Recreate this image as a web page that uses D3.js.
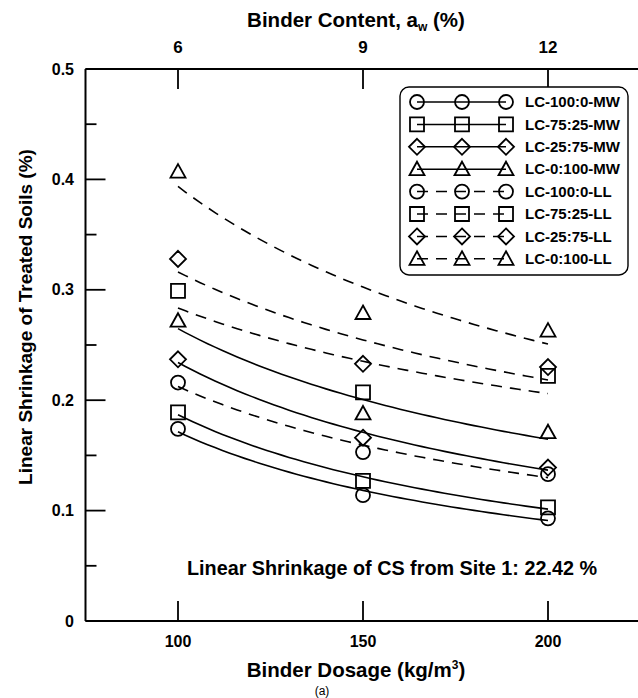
<!DOCTYPE html>
<html><head><meta charset="utf-8">
<script src="https://cdn.jsdelivr.net/npm/d3@7"></script>
<style>body{margin:0;background:#fff}svg{display:block;font-family:"Liberation Sans",Arial,sans-serif;font-weight:bold}</style>
</head><body><svg id="c" width="638" height="698"></svg>
<script>
// ---- data ----
const dosage = [100, 150, 200];
const xTicks = [100, 150, 200];
const topTicks = [6, 9, 12];
const yTicks = [0, 0.1, 0.2, 0.3, 0.4, 0.5];
const seriesNames = ["LC-100:0-MW","LC-75:25-MW","LC-25:75-MW","LC-0:100-MW","LC-100:0-LL","LC-75:25-LL","LC-25:75-LL","LC-0:100-LL"];
const seriesMarkers = ["circle","square","diamond","triangle","circle","square","diamond","triangle"];
const seriesDashed = [false,false,false,false,true,true,true,true];
const lc100_0_MW = [0.174, 0.114, 0.093];
const lc75_25_MW = [0.189, 0.127, 0.103];
const lc25_75_MW = [0.237, 0.166, 0.139];
const lc0_100_MW = [0.272, 0.188, 0.171];
const lc100_0_LL = [0.216, 0.153, 0.133];
const lc75_25_LL = [0.299, 0.207, 0.222];
const lc25_75_LL = [0.328, 0.233, 0.230];
const lc0_100_LL = [0.407, 0.279, 0.263];
const seriesValues = [lc100_0_MW, lc75_25_MW, lc25_75_MW, lc0_100_MW, lc100_0_LL, lc75_25_LL, lc25_75_LL, lc0_100_LL];

const svg = d3.select("#c");
const x = d3.scaleLinear().domain([75, 225]).range([85.5, 640.5]);
const y = d3.scaleLinear().domain([0, 0.5]).range([621, 69]);
const xTop = d3.scaleLinear().domain([75*0.06, 225*0.06]).range(x.range());

// markers
function markerPath(type){
  const p = d3.path();
  if(type==="circle"){ p.moveTo(7,0); p.arc(0,0,7,0,2*Math.PI); }
  else if(type==="square"){ p.rect(-7,-7,14,14); }
  else if(type==="diamond"){ p.moveTo(0,-8); p.lineTo(8,0); p.lineTo(0,8); p.lineTo(-8,0); p.closePath(); }
  else { p.moveTo(0,-7.5); p.lineTo(7.5,6); p.lineTo(-7.5,6); p.closePath(); }
  return p.toString();
}

// power fit y = a x^b
function powerFit(xs, ys){
  const lx = xs.map(Math.log), ly = ys.map(Math.log);
  const mx = d3.mean(lx), my = d3.mean(ly);
  const b = d3.sum(lx, (v,i)=>(v-mx)*(ly[i]-my)) / d3.sum(lx, v=>(v-mx)*(v-mx));
  const a = Math.exp(my - b*mx);
  return v => a*Math.pow(v,b);
}

const line = d3.line().x(d=>x(d[0])).y(d=>y(d[1]));
const g = svg.append("g");
seriesValues.forEach((vals,i)=>{
  const f = powerFit(dosage, vals);
  const pts = d3.range(0, 51).map(k=>{const xv = 100 + k*2; return [xv, f(xv)];});
  g.append("path").attr("d", line(pts)).attr("fill","none").attr("stroke","#000")
    .attr("stroke-width",1.6).attr("stroke-dasharray", seriesDashed[i] ? "11,8" : null);
});
seriesValues.forEach((vals,i)=>{
  g.selectAll(null).data(vals).enter().append("path")
    .attr("d", markerPath(seriesMarkers[i]))
    .attr("transform",(d,j)=>`translate(${x(dosage[j])},${y(d)})`)
    .attr("fill","none").attr("stroke","#000").attr("stroke-width",1.8);
});

// axes
const axisG = svg.append("g");
axisG.append("line").attr("x1",x(75)).attr("x2",x(75)).attr("y1",y(0)).attr("y2",y(0.5)).attr("stroke","#000").attr("stroke-width",2);
d3.range(0, 11).forEach(k=>{
  const v = k*0.05; const major = k%2===0;
  axisG.append("line").attr("x1",x(75)).attr("x2",x(75)+(major?20:11)).attr("y1",y(v)).attr("y2",y(v)).attr("stroke","#000").attr("stroke-width",1.8);
});
axisG.selectAll(null).data(yTicks).enter().append("text")
  .attr("x",74).attr("y",d=>y(d)).attr("dy","0.35em").attr("text-anchor","end")
  .attr("font-size",16).text(d=>d===0?"0":d3.format(".1f")(d));
// bottom axis
axisG.append("line").attr("x1",x(75)).attr("x2",x(225)).attr("y1",y(0)).attr("y2",y(0)).attr("stroke","#000").attr("stroke-width",2);
axisG.selectAll(null).data(xTicks).enter().append("line")
  .attr("x1",d=>x(d)).attr("x2",d=>x(d)).attr("y1",y(0)).attr("y2",y(0)-20).attr("stroke","#000").attr("stroke-width",1.8);
axisG.selectAll(null).data(xTicks).enter().append("text")
  .attr("x",d=>x(d)).attr("y",647).attr("text-anchor","middle").attr("font-size",16).text(d=>d);
// top axis
axisG.append("line").attr("x1",x(75)).attr("x2",x(225)).attr("y1",y(0.5)).attr("y2",y(0.5)).attr("stroke","#000").attr("stroke-width",2);
axisG.selectAll(null).data(topTicks).enter().append("line")
  .attr("x1",d=>xTop(d)).attr("x2",d=>xTop(d)).attr("y1",y(0.5)).attr("y2",y(0.5)+20).attr("stroke","#000").attr("stroke-width",1.8);
axisG.selectAll(null).data(topTicks).enter().append("text")
  .attr("x",d=>xTop(d)).attr("y",53).attr("text-anchor","middle").attr("font-size",17).text(d=>d);

// titles
const tt = svg.append("text").attr("x",356).attr("y",27).attr("text-anchor","middle").attr("font-size",20.5);
tt.append("tspan").text("Binder Content, a");
tt.append("tspan").attr("font-size",12).attr("dy",4).text("w");
tt.append("tspan").attr("dy",-4).text(" (%)");
const bt = svg.append("text").attr("x",356).attr("y",677).attr("text-anchor","middle").attr("font-size",20.5);
bt.append("tspan").text("Binder Dosage (kg/m");
bt.append("tspan").attr("font-size",12).attr("dy",-8).text("3");
bt.append("tspan").attr("dy",8).text(")");
svg.append("text").attr("transform","translate(32,317) rotate(-90)").attr("text-anchor","middle").attr("font-size",19)
  .text("Linear Shrinkage of Treated Soils (%)");
svg.append("text").attr("x",392).attr("y",575).attr("text-anchor","middle").attr("font-size",19.8)
  .text("Linear Shrinkage of CS from Site 1: 22.42 %");
svg.append("text").attr("x",322).attr("y",695).attr("text-anchor","middle").attr("font-size",12).attr("font-weight","normal").text("(a)");

// legend
const lg = svg.append("g");
lg.append("rect").attr("x",400).attr("y",87).attr("width",228).attr("height",188).attr("rx",9)
  .attr("fill","#fff").attr("stroke","#000").attr("stroke-width",1.4);
const lx = [417, 462, 506];
seriesNames.forEach((name,i)=>{
  const yy = 102 + i*22.4;
  lg.append("line").attr("x1",lx[0]).attr("x2",lx[2]).attr("y1",yy).attr("y2",yy).attr("stroke","#000")
    .attr("stroke-width",1.5).attr("stroke-dasharray", seriesDashed[i] ? "11,8" : null);
  lx.forEach(xx=>{
    lg.append("path").attr("d",markerPath(seriesMarkers[i])).attr("transform",`translate(${xx},${yy})`)
      .attr("fill","none").attr("stroke","#000").attr("stroke-width",1.8);
  });
  lg.append("text").attr("x",525).attr("y",yy).attr("dy","0.35em").attr("font-size",15).text(name);
});
</script></body></html>
